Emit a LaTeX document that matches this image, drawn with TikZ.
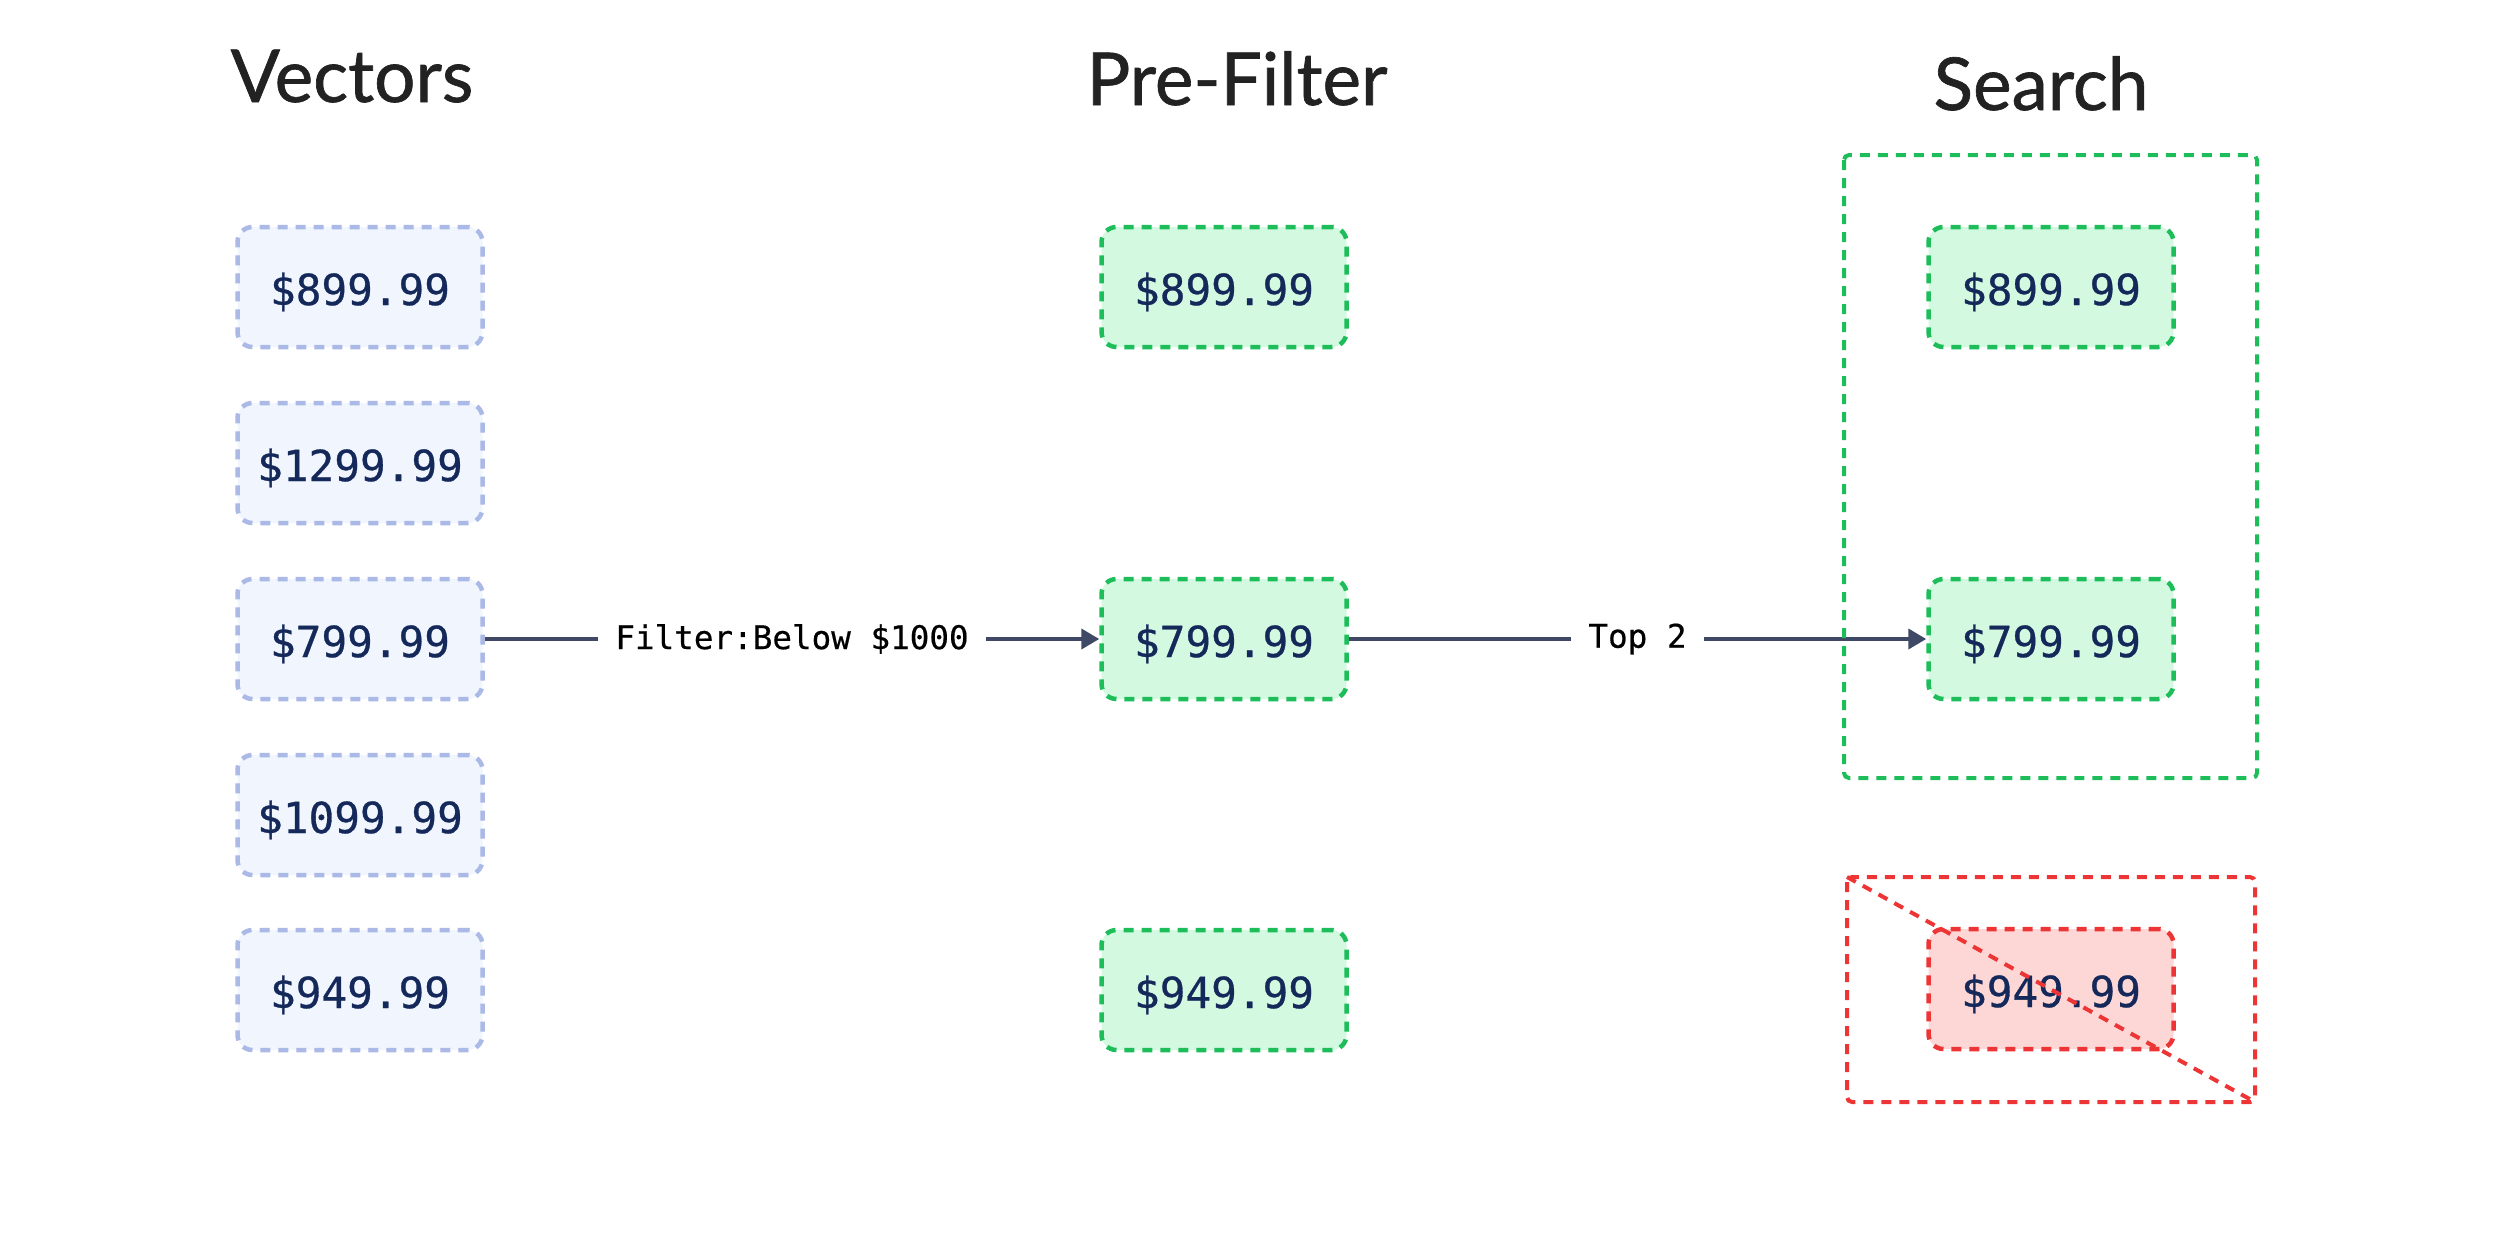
\documentclass[tikz,border=0pt]{standalone}
\usepackage{fontspec}
\usetikzlibrary{arrows.meta}
\newfontfamily\titlefont[FakeBold=0.9]{Lato}
\newfontfamily\pricefont[FakeBold=0.7]{DejaVu Sans Mono}
\newfontfamily\labelfont[FakeBold=0.5]{DejaVu Sans Mono}

\definecolor{titlegray}{HTML}{222222}
\definecolor{navy}{HTML}{14285A}
\definecolor{vecfill}{HTML}{F0F5FE}
\definecolor{vecline}{HTML}{AAB9E6}
\definecolor{keepfill}{HTML}{D3F9E0}
\definecolor{keepline}{HTML}{1DBE5A}
\definecolor{dropfill}{HTML}{FDD6D6}
\definecolor{dropline}{HTML}{EE3535}
\definecolor{arrowgray}{HTML}{3F4966}

\tikzset{
  coltitle/.style={font=\titlefont\fontsize{73}{84}\selectfont, text=titlegray, anchor=base, inner sep=0pt},
  pricebox/.style={minimum width=245pt, minimum height=120pt, rounded corners=15pt,
    line width=4.5pt, dash pattern=on 10pt off 8pt, text=navy,
    font=\pricefont\fontsize{42.7}{50}\selectfont, inner sep=0pt,
    text height=36pt, text depth=0pt},
  vecbox/.style={pricebox, fill=vecfill, draw=vecline},
  keepbox/.style={pricebox, fill=keepfill, draw=keepline},
  dropbox/.style={pricebox, fill=dropfill, draw=dropline},
  flow/.style={line width=4pt, draw=arrowgray, -{Triangle[length=18pt, width=20pt]}},
  flowlabel/.style={fill=white, text=black, inner xsep=17pt, inner ysep=4pt,
    font=\labelfont\fontsize{32.6}{38}\selectfont},
  groupbox/.style={line width=4pt, dash pattern=on 10pt off 8pt, rounded corners=5pt},
}

\begin{document}
\begin{tikzpicture}[x=1pt, y=-1pt]
  \useasboundingbox[fill=white] (0,0) rectangle (2499,1256);

  % column headings
  \node[coltitle] (tvec) at (352,102) {Vectors};
  \node[coltitle] (tpre) at (1237,105) {Pre-Filter};
  \node[coltitle] (tsea) at (2041,110) {Search};

  % all vectors
  \node[vecbox] (v1) at (360,287) {\$899.99};
  \node[vecbox] (v2) at (360,463) {\$1299.99};
  \node[vecbox] (v3) at (360,639) {\$799.99};
  \node[vecbox] (v4) at (360,815) {\$1099.99};
  \node[vecbox] (v5) at (360,990) {\$949.99};

  % after the price filter
  \node[keepbox] (p1) at (1224,287) {\$899.99};
  \node[keepbox] (p3) at (1224,639) {\$799.99};
  \node[keepbox] (p5) at (1224,990) {\$949.99};

  % search results
  \node[keepbox] (s1) at (2051,287) {\$899.99};
  \node[keepbox] (s3) at (2051,639) {\$799.99};
  \node[dropbox] (s5) at (2051,989) {\$949.99};

  % flow arrows
  \draw[flow] (v3.east) -- node[flowlabel] (lfilter) {Filter:Below \$1000} (p3.west);
  \draw[flow] (p3.east) -- node[flowlabel] (ltop) {Top 2} (s3.west);

  % kept group and rejected group
  \coordinate (kA) at (1844,155);
  \coordinate (kB) at (2257,778);
  \draw[groupbox, draw=keepline] (kA) rectangle (kB);

  \coordinate (dA) at (1847,877);
  \coordinate (dB) at (2255,1102);
  \draw[groupbox, draw=dropline] (dA) rectangle (dB);
  \draw[line width=4pt, dash pattern=on 10pt off 8pt, draw=dropline] (dA) -- (dB);
\end{tikzpicture}
\end{document}
